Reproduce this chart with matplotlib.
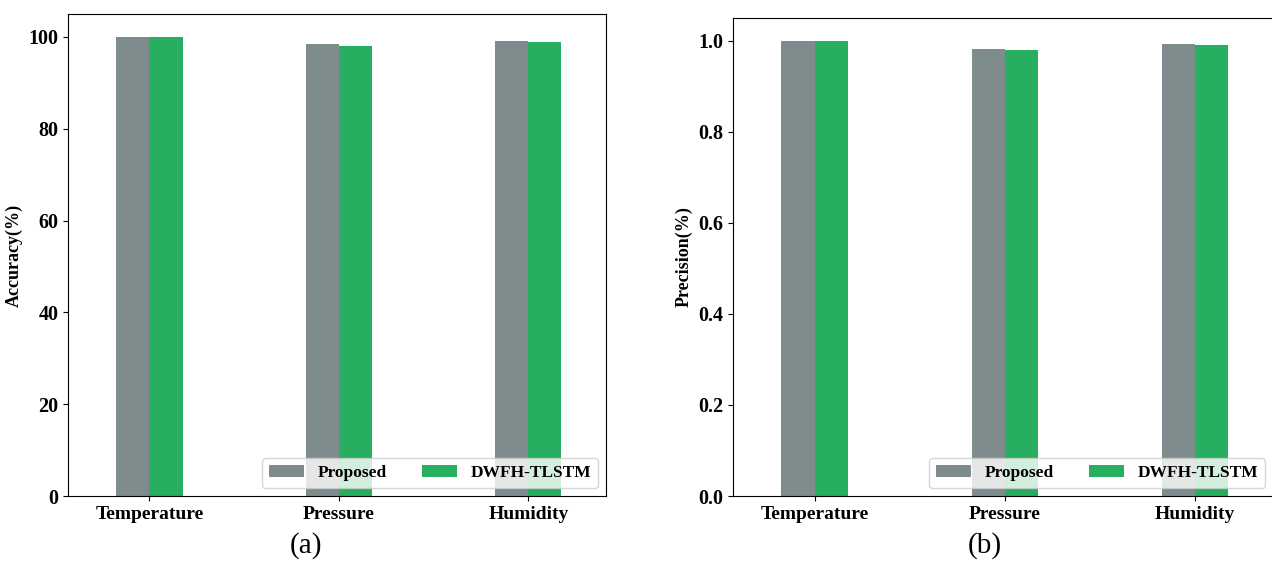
import numpy as np
from matplotlib import pyplot as plt

# === Datos ===
categories = ["Temperature", "Pressure", "Humidity"]
series_names = ["Proposed", "DWFH-TLSTM"]
accuracy_proposed = [99.9, 98.4, 99.2]
accuracy_dwfh = [99.9, 98.1, 99.0]
precision_proposed = [1.0, 0.983, 0.992]
precision_dwfh = [1.0, 0.980, 0.990]

COLORS = ["#7f8c8d", "#27ae60"]
W, H = 1272, 583

plt.rcParams['font.family'] = ['Liberation Serif', 'DejaVu Serif']
plt.rcParams['font.weight'] = 'bold'

fig = plt.figure(figsize=(W / 100, H / 100), dpi=100)

def px_axes(left, right, top, bottom):
    return fig.add_axes([left / W, (H - bottom) / H, (right - left) / W, (bottom - top) / H])

def draw_panel(ax, proposed, dwfh, ylabel, yticks, fmt):
    x = np.arange(len(categories))
    bar_width = 0.175
    ax.bar(x - bar_width / 2, proposed, width=bar_width, color=COLORS[0], label=series_names[0])
    ax.bar(x + bar_width / 2, dwfh, width=bar_width, color=COLORS[1], label=series_names[1])
    ax.set_xticks(x)
    ax.set_xticklabels(categories, fontsize=14, fontweight='bold')
    ax.set_yticks(yticks)
    ax.set_yticklabels([fmt.format(v) for v in yticks], fontsize=14.5, fontweight='bold')
    ax.set_xlim(-0.43, 2.41)
    ax.set_ylim(0, yticks[-1] * 1.05)
    ax.set_ylabel(ylabel, fontsize=13, fontweight='bold', labelpad=4)
    ax.legend(loc='lower right', ncol=2, prop={'weight': 'bold', 'size': 12.5},
              borderaxespad=0.45)

ax1 = px_axes(68, 606, 14, 496)
draw_panel(ax1, accuracy_proposed, accuracy_dwfh, "Accuracy(%)",
           [0, 20, 40, 60, 80, 100], "{:.0f}")

ax2 = px_axes(733, 1273, 18, 496)
draw_panel(ax2, precision_proposed, precision_dwfh, "Precision(%)",
           [0.0, 0.2, 0.4, 0.6, 0.8, 1.0], "{:.1f}")
ax2.spines['right'].set_visible(False)

fig.text(306 / W, 1 - 546 / H, "(a)", fontsize=21, fontweight='normal', ha='center', va='center')
fig.text(985 / W, 1 - 546 / H, "(b)", fontsize=21, fontweight='normal', ha='center', va='center')

plt.savefig("out.png", dpi=100, facecolor='white')
plt.close()
